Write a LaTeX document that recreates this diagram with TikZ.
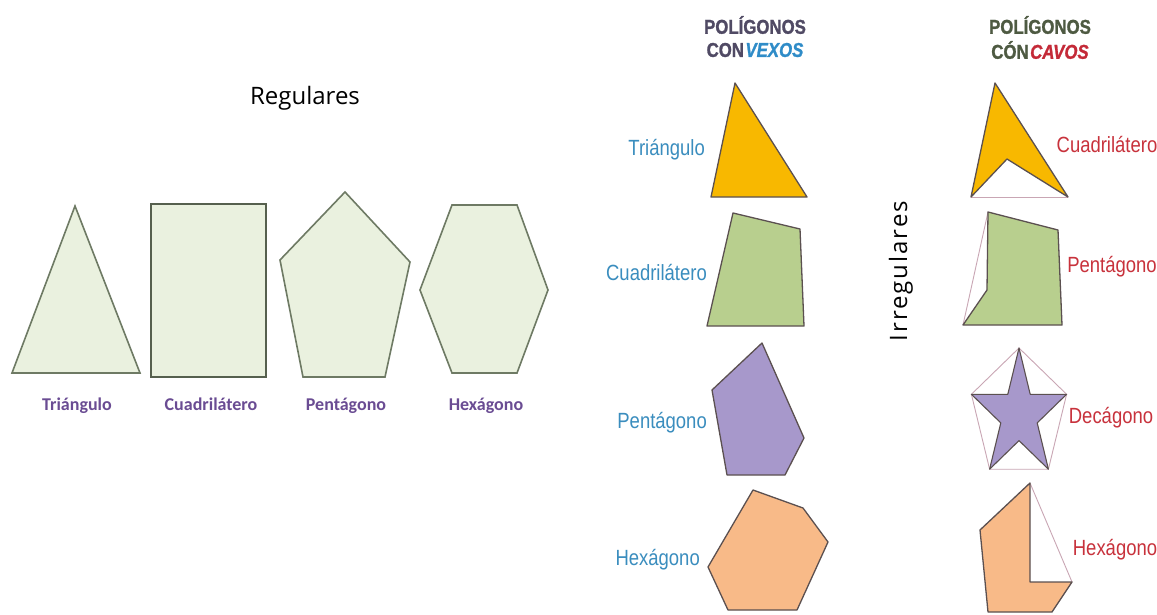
\documentclass[tikz,border=0pt]{standalone}
\usepackage{fontspec}
\newfontfamily\carlito{Carlito}
\newfontfamily\narrowsans[FakeStretch=0.84]{Liberation Sans}
\newfontfamily\headbold[FakeStretch=0.84, FakeBold=1.2, ItalicFont={Liberation Sans Bold Italic}]{Liberation Sans Bold}
\newfontfamily\opensans{Open Sans}
\newfontfamily\spacedsans[LetterSpace=8]{Open Sans}
\definecolor{leftfill}{HTML}{EAF1DF}
\definecolor{leftdraw}{HTML}{6E7A64}
\definecolor{sqdraw}{HTML}{56604E}
\definecolor{lblpurple}{HTML}{6A4C93}
\definecolor{cvxblue}{HTML}{3A8DBE}
\definecolor{ccvred}{HTML}{C8323C}
\definecolor{hdconvex}{HTML}{504A64}
\definecolor{hdvexos}{HTML}{2F8CC8}
\definecolor{hdconcave}{HTML}{4E5A42}
\definecolor{hdcavos}{HTML}{C42A38}
\definecolor{fyellow}{HTML}{F8B800}
\definecolor{fgreen}{HTML}{B8CF8E}
\definecolor{fpurple}{HTML}{A798CB}
\definecolor{forange}{HTML}{F8BA88}
\definecolor{outl}{HTML}{5B5050}
\definecolor{hull}{HTML}{C9A6B4}
\tikzset{
  regshape/.style={fill=leftfill, draw=leftdraw, line width=1.6pt, line join=miter},
  irrshape/.style={draw=outl, line width=1.3pt, line join=round},
  hullline/.style={draw=hull, line width=0.9pt},
  reglabel/.style={font=\carlito\bfseries\fontsize{18}{20}\selectfont, text=lblpurple, inner sep=0pt, anchor=base},
  cvxlabel/.style={font=\narrowsans\fontsize{22}{24}\selectfont, text=cvxblue, inner sep=0pt},
  ccvlabel/.style={font=\narrowsans\fontsize{22}{24}\selectfont, text=ccvred, inner sep=0pt},
  header/.style={font=\headbold\fontsize{20}{22}\selectfont, inner sep=0pt},
}
\begin{document}
\begin{tikzpicture}[x=1pt,y=-1pt]
\fill[white] (0,0) rectangle (1157,615);
\useasboundingbox (0,0) rectangle (1157,615);

% ---------- Regulares ----------
\node[font=\opensans\fontsize{24}{28}\selectfont, anchor=base, inner sep=0pt] (titreg) at (305,105) {Regulares};

\draw[regshape] (75,206) -- (140,373) -- (12,373) -- cycle;
\draw[regshape, draw=sqdraw, line width=2.6pt] (151,204) rectangle (266,377);
\draw[regshape] (345,192) -- (410,262) -- (385,377) -- (303,377) -- (280,260) -- cycle;
\draw[regshape] (452,205) -- (517,205) -- (548,290) -- (517,373) -- (452,373) -- (420,290) -- cycle;

\node[reglabel] (lt) at (77,410) {Triángulo};
\node[reglabel] (lc) at (211,410) {Cuadrilátero};
\node[reglabel] (lp) at (346,410) {Pentágono};
\node[reglabel] (lh) at (486,410) {Hexágono};

% ---------- Irregulares ----------
\node[font=\spacedsans\fontsize{24}{28}\selectfont, rotate=90, anchor=base, inner sep=0pt] (titirr) at (907,271) {Irregulares};

% headers
\node[header, text=hdconvex] (hc1) at (755,25) {POLÍGONOS};
\node[header, text=hdconvex] (hc2) at (755,50) {CON\kern1.5pt{\itshape\color{hdvexos}VEXOS}};
\node[header, text=hdconcave] (hk1) at (1040,25) {POLÍGONOS};
\node[header, text=hdconcave] (hk2) at (1040,50) {CÓN\kern1.5pt{\itshape\color{hdcavos}CAVOS}};

% convex shapes
\draw[irrshape, fill=fyellow] (735,83) -- (807,197) -- (711,197) -- cycle;
\draw[irrshape, fill=fgreen] (733,213) -- (800,229) -- (804,326) -- (707,326) -- cycle;
\draw[irrshape, fill=fpurple] (762,343) -- (804,438) -- (785,475) -- (727,475) -- (712,390) -- cycle;
\draw[irrshape, fill=forange] (753,490) -- (803,508) -- (828,542) -- (797,610) -- (728,610) -- (708,567) -- cycle;

\node[cvxlabel, anchor=east] (ct) at (705,150) {Triángulo};
\node[cvxlabel, anchor=east] (cc) at (707,273) {Cuadrilátero};
\node[cvxlabel, anchor=east] (cp) at (707,423) {Pentágono};
\node[cvxlabel, anchor=east] (ch) at (700,560) {Hexágono};

% concave shapes
\draw[hullline] (971,197) -- (1068,197);
\draw[irrshape, fill=fyellow] (995,83) -- (1068,197) -- (1007,159) -- (971,197) -- cycle;

\draw[hullline] (963,325) -- (988,212);
\draw[irrshape, fill=fgreen] (988,212) -- (1058,230) -- (1062,325) -- (963,325) -- (987,290) -- cycle;

\draw[hullline] (1019,348) -- (1066.6,394.3) -- (1048.4,469.2) -- (989.6,469.2) -- (971.4,394.3) -- cycle;
\draw[irrshape, line width=1.1pt, fill=fpurple] (1019,348) -- (1030.2,394.3) -- (1066.6,394.3) -- (1037.2,422.9) -- (1048.4,469.2) -- (1019,440.6) -- (989.6,469.2) -- (1000.8,422.9) -- (971.4,394.3) -- (1007.8,394.3) -- cycle;

\draw[hullline] (1030,483) -- (1072,582);
\draw[irrshape, fill=forange] (1030,483) -- (1030,582) -- (1072,582) -- (1052,612) -- (988,612) -- (980,530) -- cycle;

\node[ccvlabel] (kc) at (1107,145) {Cuadrilátero};
\node[ccvlabel] (kp) at (1112,267) {Pentágono};
\node[ccvlabel] (kd) at (1111,418) {Decágono};
\node[ccvlabel] (kh) at (1115,550) {Hexágono};
\end{tikzpicture}
\end{document}
